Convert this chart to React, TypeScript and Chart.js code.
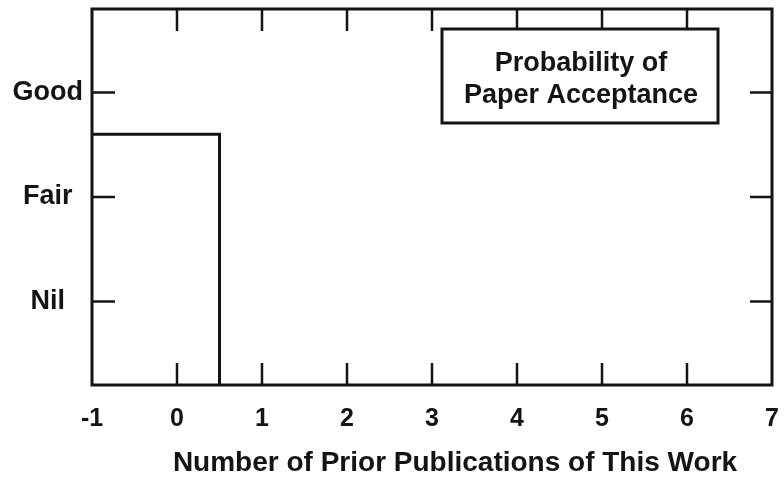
import { useEffect, useRef } from "react";
import { Chart, registerables } from "chart.js";

Chart.register(...registerables);

// ---- data ----
const xTickValues = [-1, 0, 1, 2, 3, 4, 5, 6, 7];
const xRange = [-1, 7];
const yCategories = ["Nil", "Fair", "Good"];
const yCategoryValues = [1, 2, 3];
const yRange = [0.2, 3.8];
const stepX = [-1, 0.5, 0.5];
const stepY = [2.6, 2.6, 0.2];
const legendLines = ["Probability of", "Paper Acceptance"];
const xTitle = "Number of Prior Publications of This Work";

const INK = "#141414";
const FAMILY = '"Liberation Sans", Arial, Helvetica, sans-serif';

const framePlugin = {
  id: "frame",
  afterDraw(chart: any) {
    const { ctx, chartArea: a, scales } = chart;
    const xs = scales.x;
    const ys = scales.y;
    ctx.save();
    ctx.strokeStyle = INK;
    ctx.lineCap = "butt";
    ctx.lineWidth = 3;
    ctx.strokeRect(a.left, a.top, a.right - a.left, a.bottom - a.top);

    ctx.lineWidth = 2.5;
    ctx.beginPath();
    for (const v of xTickValues) {
      if (v <= xRange[0] || v >= xRange[1]) continue;
      const px = xs.getPixelForValue(v);
      ctx.moveTo(px, a.bottom);
      ctx.lineTo(px, a.bottom - 22);
      ctx.moveTo(px, a.top);
      ctx.lineTo(px, a.top + 22);
    }
    for (const v of yCategoryValues) {
      const py = ys.getPixelForValue(v);
      ctx.moveTo(a.left, py);
      ctx.lineTo(a.left + 23, py);
      ctx.moveTo(a.right, py);
      ctx.lineTo(a.right - 22, py);
    }
    ctx.stroke();

    // legend box
    const bx = a.left + 350;
    const by = a.top + 20;
    const bw = 276;
    const bh = 94;
    ctx.fillStyle = "#ffffff";
    ctx.fillRect(bx, by, bw, bh);
    ctx.lineWidth = 3;
    ctx.strokeRect(bx, by, bw, bh);
    ctx.fillStyle = INK;
    ctx.font = `bold 27px ${FAMILY}`;
    ctx.textAlign = "center";
    ctx.textBaseline = "alphabetic";
    ctx.fillText(legendLines[0], bx + bw / 2 + 1, by + 42);
    ctx.fillText(legendLines[1], bx + bw / 2 + 1, by + 74);

    // x axis title
    ctx.font = `bold 28px ${FAMILY}`;
    ctx.fillText(xTitle, a.left + 363, a.bottom + 86);
    ctx.restore();
  },
};

const zeroPadding = (s: any) => {
  s.paddingLeft = 0;
  s.paddingRight = 0;
  s.paddingTop = 0;
  s.paddingBottom = 0;
};

export default function App() {
  const ref = useRef<HTMLCanvasElement | null>(null);

  useEffect(() => {
    document.body.style.margin = "0";
    const canvas = ref.current;
    if (!canvas) return;
    const chart = new Chart(canvas, {
      type: "line",
      data: {
        datasets: [
          {
            label: "Probability",
            data: stepX.map((x, i) => ({ x, y: stepY[i] })),
            borderColor: INK,
            borderWidth: 3,
            pointRadius: 0,
            tension: 0,
            fill: false,
            clip: false as any,
          },
        ],
      },
      options: {
        responsive: false,
        animation: false,
        events: [],
        layout: { padding: { top: 9, right: 12, bottom: 0, left: 0 } },
        plugins: {
          legend: { display: false },
          tooltip: { enabled: false },
          title: { display: false },
        },
        scales: {
          x: {
            type: "linear",
            min: xRange[0],
            max: xRange[1],
            grid: { display: false, drawTicks: false },
            border: { display: false },
            afterBuildTicks: (s: any) => {
              s.ticks = xTickValues.map((v) => ({ value: v }));
            },
            ticks: {
              padding: 19,
              autoSkip: false,
              maxRotation: 0,
              color: INK,
              font: { family: FAMILY, size: 25, weight: "bold" },
              callback: (v: any) => String(v),
            },
            afterFit: (s: any) => {
              s.height = 93;
              zeroPadding(s);
            },
          },
          y: {
            type: "linear",
            min: yRange[0],
            max: yRange[1],
            grid: { display: false, drawTicks: false },
            border: { display: false },
            afterBuildTicks: (s: any) => {
              s.ticks = yCategoryValues.map((v) => ({ value: v }));
            },
            ticks: {
              crossAlign: "center",
              padding: 9,
              color: INK,
              font: { family: FAMILY, size: 27, weight: "bold" },
              callback: (v: any) => {
                const i = yCategoryValues.indexOf(Number(v));
                return i >= 0 ? yCategories[i] : "";
              },
            },
            afterFit: (s: any) => {
              s.width = 92;
              zeroPadding(s);
            },
          },
        },
      },
      plugins: [framePlugin],
    });
    return () => chart.destroy();
  }, []);

  return (
    <div style={{ position: "absolute", left: 0, top: 0, width: 784, height: 478, background: "#fff" }}>
      <canvas ref={ref} width={784} height={478} style={{ display: "block" }} />
    </div>
  );
}
